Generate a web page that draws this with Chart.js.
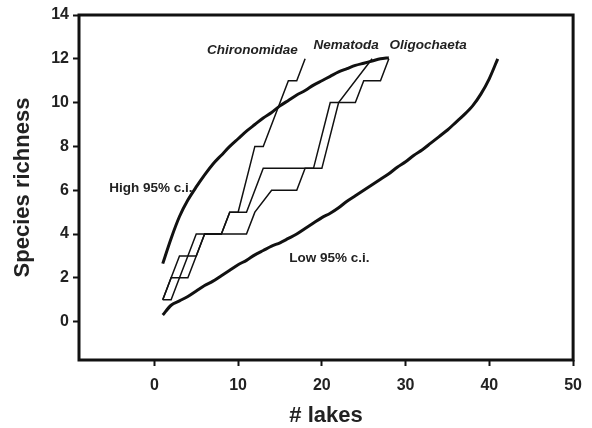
<!DOCTYPE html>
<html>
<head>
<meta charset="utf-8">
<script src="https://cdn.jsdelivr.net/npm/chart.js@4"></script>
<style>
  body { margin: 0; background: #fff; }
  #wrap { width: 592px; height: 428px; }
</style>
</head>
<body>
<div id="wrap"><canvas id="chart"></canvas></div>
<script>
// tick values
const xTicks = [0, 10, 20, 30, 40, 50];
const yTicks = [0, 2, 4, 6, 8, 10, 12, 14];

// accumulation curves (lake number, species count), vertices
const chironX = [1, 2, 3, 4, 5, 8, 9, 10, 12, 13, 16, 17, 18];
const chironY = [1, 2, 2, 3, 4, 4, 5, 5, 8, 8, 11, 11, 12];

const nemaX = [1, 2, 3, 5, 6, 11, 12, 14, 17, 18, 20, 22, 26];
const nemaY = [1, 2, 3, 3, 4, 4, 5, 6, 6, 7, 7, 10, 12];

const oligoX = [1, 2, 3, 4, 5, 6, 8, 9, 11, 13, 19, 21, 24, 25, 27, 28];
const oligoY = [1, 1, 2, 2, 3, 4, 4, 5, 5, 7, 7, 10, 10, 11, 11, 12];

// 95% confidence limits
const highX = [1, 2, 3, 4, 5, 6, 7, 8, 9, 10, 11, 12, 13, 14, 15, 16, 17, 18, 19, 20, 21, 22, 23, 24, 25, 26, 27, 28];
const highY = [2.65, 3.8, 4.8, 5.55, 6.15, 6.7, 7.2, 7.6, 8.0, 8.35, 8.7, 9.0, 9.3, 9.55, 9.85, 10.1, 10.35, 10.55, 10.8, 11.0, 11.2, 11.4, 11.55, 11.7, 11.8, 11.9, 12.0, 12.05];

const lowX = [1, 2, 3, 4, 5, 6, 7, 8, 9, 10, 11, 12, 13, 14, 15, 16, 17, 18, 19, 20, 21, 22, 23, 24, 25, 26, 27, 28, 29, 30, 31, 32, 33, 34, 35, 36, 37, 38, 39, 40, 41];
const lowY = [0.3, 0.75, 0.95, 1.15, 1.4, 1.65, 1.85, 2.1, 2.35, 2.6, 2.8, 3.05, 3.25, 3.45, 3.6, 3.8, 4.0, 4.25, 4.5, 4.75, 4.95, 5.2, 5.5, 5.75, 6.0, 6.25, 6.5, 6.75, 7.05, 7.3, 7.6, 7.85, 8.15, 8.45, 8.75, 9.1, 9.45, 9.85, 10.4, 11.1, 12.0];

// text placed on the plot, in data units
const notes = [
  { text: 'High 95% c.i.', x: -5.4, y: 6.1, italic: false, align: 'left' },
  { text: 'Low 95% c.i.', x: 16.1, y: 2.9, italic: false, align: 'left' },
  { text: 'Chironomidae', x: 11.7, y: 12.4, italic: true, align: 'center' },
  { text: 'Nematoda', x: 22.9, y: 12.62, italic: true, align: 'center' },
  { text: 'Oligochaeta', x: 32.7, y: 12.62, italic: true, align: 'center' }
];

const FONT = "'Liberation Sans', Arial, sans-serif";

function pts(xs, ys) {
  return xs.map((x, i) => ({ x: x, y: ys[i] }));
}

function serie(label, xs, ys, width, tension) {
  return {
    label: label,
    data: pts(xs, ys),
    showLine: true,
    borderColor: '#111',
    borderWidth: width,
    pointRadius: 0,
    tension: tension,
    fill: false
  };
}

const framePlugin = {
  id: 'frame',
  afterDraw(chart) {
    const ctx = chart.ctx;
    const a = chart.chartArea;
    const sx = chart.scales.x, sy = chart.scales.y;
    ctx.save();
    ctx.lineWidth = 3;
    ctx.strokeStyle = '#111';
    ctx.strokeRect(a.left, a.top, a.right - a.left, a.bottom - a.top);

    ctx.fillStyle = '#222';
    ctx.textBaseline = 'middle';
    notes.forEach(n => {
      ctx.font = (n.italic ? 'italic ' : '') + 'bold 13.5px ' + FONT;
      ctx.textAlign = n.align;
      ctx.fillText(n.text, sx.getPixelForValue(n.x), sy.getPixelForValue(n.y));
    });
    ctx.restore();
  }
};

new Chart(document.getElementById('chart'), {
  type: 'scatter',
  data: {
    datasets: [
      serie('High 95% c.i.', highX, highY, 3, 0.3),
      serie('Low 95% c.i.', lowX, lowY, 3, 0.3),
      serie('Chironomidae', chironX, chironY, 1.5, 0),
      serie('Nematoda', nemaX, nemaY, 1.5, 0),
      serie('Oligochaeta', oligoX, oligoY, 1.5, 0)
    ]
  },
  options: {
    responsive: true,
    maintainAspectRatio: false,
    animation: false,
    layout: { padding: { top: 15, right: 18, left: 0, bottom: 0 } },
    plugins: {
      legend: { display: false },
      tooltip: { enabled: false }
    },
    scales: {
      x: {
        type: 'linear',
        min: -9,
        max: 50,
        afterFit(scale) { scale.height = 68; },
        afterBuildTicks(scale) { scale.ticks = xTicks.map(v => ({ value: v })); },
        border: { display: false },
        grid: {
          drawOnChartArea: false,
          drawTicks: true,
          tickLength: 6,
          tickWidth: 2,
          tickColor: '#111'
        },
        ticks: {
          padding: 10,
          color: '#222',
          font: { family: FONT, size: 16, weight: 'bold' },
          maxRotation: 0
        },
        title: {
          display: true,
          text: '# lakes',
          color: '#222',
          font: { family: FONT, size: 22, weight: 'bold' },
          padding: { top: 0, bottom: -1 }
        }
      },
      y: {
        type: 'linear',
        min: -1.75,
        max: 14,
        afterFit(scale) { scale.width = 79; },
        afterBuildTicks(scale) { scale.ticks = yTicks.map(v => ({ value: v })); },
        border: { display: false },
        grid: {
          drawOnChartArea: false,
          drawTicks: true,
          tickLength: 6,
          tickWidth: 2,
          tickColor: '#111'
        },
        ticks: {
          padding: 4,
          color: '#222',
          font: { family: FONT, size: 16, weight: 'bold' }
        },
        title: {
          display: true,
          text: 'Species richness',
          color: '#222',
          font: { family: FONT, size: 22, weight: 'bold' },
          padding: { top: 10, bottom: 0 }
        }
      }
    }
  },
  plugins: [framePlugin]
});
</script>
</body>
</html>
